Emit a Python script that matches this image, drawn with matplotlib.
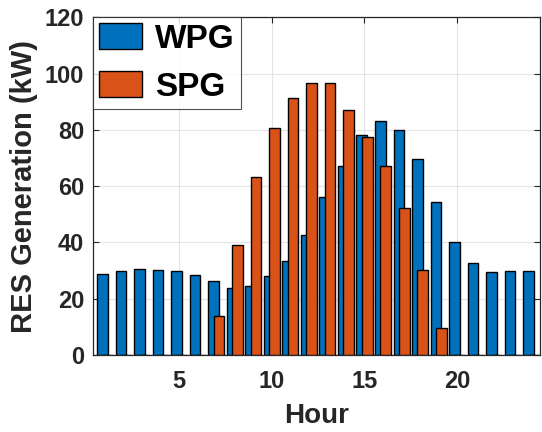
import matplotlib.pyplot as plt
import numpy as np

hours = np.arange(1, 25)
wpg = [28.7, 29.7, 30.5, 30.4, 29.7, 28.3, 26.2, 23.9, 24.4, 28.0, 33.3, 42.6,
       56.1, 67.2, 78.2, 83.2, 80.1, 69.6, 54.3, 40.3, 32.7, 29.5, 29.7, 29.9]
spg = [0, 0, 0, 0, 0, 0, 14.0, 39.2, 63.4, 80.8, 91.5, 96.7,
       96.8, 87.0, 77.6, 67.3, 52.2, 30.2, 9.5, 0, 0, 0, 0, 0]

plt.rcParams['font.family'] = ['Liberation Sans', 'DejaVu Sans']
plt.rcParams['font.weight'] = 'bold'

fig = plt.figure(figsize=(5.42, 4.32), dpi=100)
ax = fig.add_axes([0.1707, 0.178, 0.8265, 0.782])

w = 0.58
ax.bar(hours - 0.14, wpg, width=w, color='#0072BD', edgecolor='black',
       linewidth=1, label='WPG', zorder=2)
ax.bar(hours + 0.15, spg, width=w, color='#D95319', edgecolor='black',
       linewidth=1, label='SPG', zorder=3)

ax.set_xlim(0.33, 24.5)
ax.set_ylim(0, 120)
ax.set_xticks([5, 10, 15, 20])
ax.set_yticks(range(0, 121, 20))
ax.grid(True, color='#e3e3e3', linewidth=0.8, zorder=0)
ax.set_axisbelow(True)
ax.tick_params(direction='in', length=4, width=0.8, top=True, right=True,
               labelsize=17, colors='#262626', pad=6)
ax.tick_params(axis='x', pad=11)
for s in ax.spines.values():
    s.set_color('#262626')
    s.set_linewidth(0.9)

ax.set_xlabel('Hour', fontsize=20, fontweight='bold', color='#262626', labelpad=7)
ax.set_ylabel('RES Generation (kW)', fontsize=21, fontweight='bold', color='#262626', labelpad=5)

leg = ax.legend(loc='upper left', fontsize=24, frameon=True, fancybox=False,
                borderaxespad=0, handlelength=1.3, handleheight=0.8,
                handletextpad=0.4, labelspacing=0.5, borderpad=0.18)
leg.get_frame().set_edgecolor('#262626')
leg.get_frame().set_linewidth(0.8)

fig.savefig('out.png', dpi=100)
